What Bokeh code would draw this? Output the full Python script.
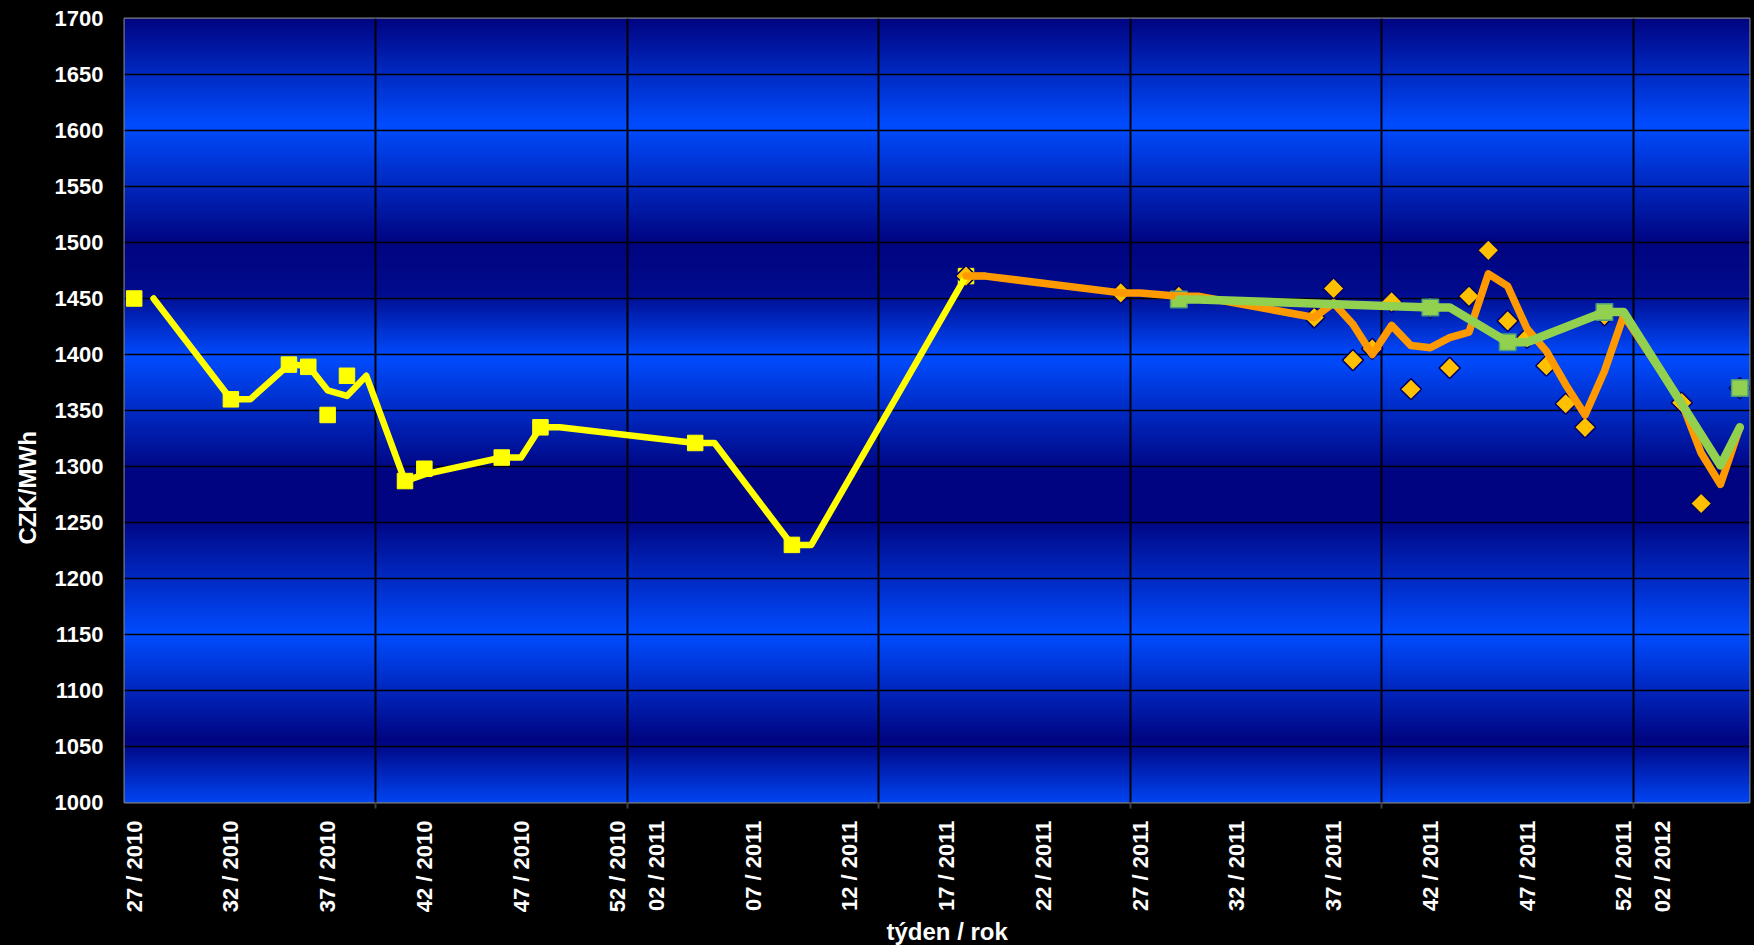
import math
import numpy as np
from bokeh.plotting import figure
from bokeh.models import FixedTicker, Title, Range1d
from bokeh.embed import file_html
from bokeh.resources import INLINE

# ---------------- data ----------------
# categories: weeks 27/2010 .. 06/2012
weeks = ([f"{w:02d} / 2010" for w in range(27, 53)] +
         [f"{w:02d} / 2011" for w in range(1, 53)] +
         [f"{w:02d} / 2012" for w in range(1, 7)])

tick_labels = ["27 / 2010", "32 / 2010", "37 / 2010", "42 / 2010", "47 / 2010",
               "52 / 2010", "02 / 2011", "07 / 2011", "12 / 2011", "17 / 2011",
               "22 / 2011", "27 / 2011", "32 / 2011", "37 / 2011", "42 / 2011",
               "47 / 2011", "52 / 2011", "02 / 2012"]

y_ticks = [1000, 1050, 1100, 1150, 1200, 1250, 1300, 1350, 1400, 1450,
           1500, 1550, 1600, 1650, 1700]

yellow_pts_weeks = ["27 / 2010", "32 / 2010", "35 / 2010", "36 / 2010", "37 / 2010",
                    "38 / 2010", "41 / 2010", "42 / 2010", "46 / 2010", "48 / 2010",
                    "04 / 2011", "09 / 2011", "18 / 2011"]
yellow_pts_values = [1450, 1360, 1391, 1389, 1346, 1381, 1287, 1298, 1308, 1335,
                     1321, 1230, 1470]

yellow_line_weeks = ["28 / 2010", "32 / 2010", "33 / 2010", "35 / 2010", "36 / 2010",
                     "37 / 2010", "38 / 2010", "39 / 2010", "41 / 2010", "42 / 2010",
                     "46 / 2010", "47 / 2010", "48 / 2010", "49 / 2010", "04 / 2011",
                     "05 / 2011", "09 / 2011", "10 / 2011", "18 / 2011", "19 / 2011"]
yellow_line_values = [1450, 1360, 1360, 1391, 1390, 1368, 1363, 1381, 1287, 1293,
                      1308, 1308, 1335, 1335, 1321, 1321, 1230, 1230, 1470, 1470]

orange_pts_weeks = ["18 / 2011", "26 / 2011", "29 / 2011", "36 / 2011", "37 / 2011",
                    "38 / 2011", "39 / 2011", "40 / 2011", "41 / 2011", "42 / 2011",
                    "43 / 2011", "44 / 2011", "45 / 2011", "46 / 2011", "47 / 2011",
                    "48 / 2011", "49 / 2011", "50 / 2011", "51 / 2011", "03 / 2012",
                    "04 / 2012", "06 / 2012"]
orange_pts_values = [1470, 1455, 1452, 1433, 1459, 1395, 1405, 1447, 1369, 1442,
                     1388, 1452, 1493, 1430, 1415, 1390, 1356, 1335, 1435, 1357,
                     1267, 1370]

orange_line_weeks = ["18 / 2011", "19 / 2011", "26 / 2011", "27 / 2011", "29 / 2011",
                     "30 / 2011", "36 / 2011", "37 / 2011", "38 / 2011", "39 / 2011",
                     "40 / 2011", "41 / 2011", "42 / 2011", "43 / 2011", "44 / 2011",
                     "45 / 2011", "46 / 2011", "47 / 2011", "48 / 2011", "49 / 2011",
                     "50 / 2011", "51 / 2011", "52 / 2011", "03 / 2012", "04 / 2012",
                     "05 / 2012", "06 / 2012"]
orange_line_values = [1470, 1470, 1455, 1455, 1452, 1452, 1433, 1446, 1427, 1400,
                      1426, 1408, 1406, 1415, 1420, 1472, 1461, 1423, 1403, 1373,
                      1346, 1385, 1435, 1357, 1312, 1284, 1335]

green_pts_weeks = ["29 / 2011", "42 / 2011", "46 / 2011", "51 / 2011", "06 / 2012"]
green_pts_values = [1449, 1442, 1411, 1438, 1370]

green_line_weeks = ["29 / 2011", "30 / 2011", "42 / 2011", "43 / 2011", "46 / 2011",
                    "47 / 2011", "51 / 2011", "52 / 2011", "05 / 2012", "06 / 2012"]
green_line_values = [1449, 1449, 1442, 1442, 1411, 1411, 1438, 1438, 1301, 1335]

# ---------------- helpers ----------------
idx = {w: i for i, w in enumerate(weeks)}
n = len(weeks)
x_lo, x_hi = -0.5, n - 0.5
y_lo, y_hi = y_ticks[0], y_ticks[-1]

def xs(ws):
    return [idx[w] for w in ws]

FONT = "Liberation Sans"

p = figure(width=1754, height=945,
           x_range=Range1d(x_lo, x_hi), y_range=Range1d(y_lo, y_hi),
           output_backend="svg", toolbar_location=None,
           min_border_left=124, min_border_right=5,
           min_border_top=18, min_border_bottom=143)
p.background_fill_color = "black"
p.border_fill_color = "black"
p.outline_line_color = "#808080"
p.outline_line_width = 2

# background gradient (style only): banded blue shading
stop_v = [1000, 1055, 1150, 1255, 1295, 1398, 1455, 1500, 1605, 1700]
stop_t = [0.9, 0.0, 1.0, 0.0, 0.0, 1.0, 0.1, 0.0, 1.0, 0.0]
dark = np.array([0, 4, 128])
bright = np.array([0, 76, 255])
edges = np.linspace(y_lo, y_hi, 351)
bots = edges[:-1]
tops = np.minimum(edges[1:] + (edges[1] - edges[0]) * 0.6, y_hi)
mids = (edges[:-1] + edges[1:]) / 2
ts = np.interp(mids, stop_v, stop_t)
cols = []
for t in ts:
    c = dark + (bright - dark) * t
    cols.append("#%02x%02x%02x" % tuple(int(round(v)) for v in c))
p.quad(left=x_lo, right=x_hi, bottom=bots, top=tops,
       fill_color=cols, line_color=None, level="image")

# grids
boundaries = [k * 13 - 0.5 for k in range(1, n // 13 + 1)]
p.xgrid.ticker = FixedTicker(ticks=boundaries)
p.xgrid.grid_line_color = "black"
p.xgrid.grid_line_width = 2
p.ygrid.ticker = FixedTicker(ticks=y_ticks)
p.ygrid.grid_line_color = "black"
p.ygrid.grid_line_width = 1.5

# axes
p.xaxis.ticker = FixedTicker(ticks=xs(tick_labels), minor_ticks=boundaries)
p.xaxis.major_label_overrides = {idx[t]: t for t in tick_labels}
p.xaxis.major_label_orientation = math.pi / 2
p.xaxis.major_tick_line_color = None
p.xaxis.major_tick_out = 6
p.xaxis.minor_tick_line_color = "#404040"
p.xaxis.minor_tick_line_width = 2
p.xaxis.minor_tick_in = 0
p.xaxis.minor_tick_out = 6
p.xaxis.axis_line_color = None
p.xaxis.major_label_standoff = 12
p.xaxis.major_label_text_font = FONT
p.xaxis.major_label_text_font_size = "22px"
p.xaxis.major_label_text_font_style = "bold"
p.xaxis.major_label_text_color = "white"

p.yaxis.ticker = FixedTicker(ticks=y_ticks)
p.yaxis.major_tick_line_color = None
p.yaxis.major_tick_out = 0
p.yaxis.major_tick_in = 0
p.yaxis.minor_tick_line_color = None
p.yaxis.minor_tick_out = 0
p.yaxis.minor_tick_in = 0
p.yaxis.axis_line_color = None
p.yaxis.major_label_standoff = 21
p.yaxis.major_label_text_font = FONT
p.yaxis.major_label_text_font_size = "22px"
p.yaxis.major_label_text_font_style = "bold"
p.yaxis.major_label_text_color = "white"

p.add_layout(Title(text="CZK/MWh", align="left", offset=258, standoff=21,
                   text_font=FONT, text_font_size="24px", text_font_style="bold",
                   text_color="white"), "left")
p.add_layout(Title(text="týden / rok", align="left", offset=762, standoff=0,
                   text_font=FONT, text_font_size="24px", text_font_style="bold",
                   text_color="white"), "below")

# markers
p.scatter(x=xs(yellow_pts_weeks), y=yellow_pts_values, marker="square", size=15.5,
          fill_color="#FFFF00", line_color="#FFFF00", line_width=1)
p.scatter(x=xs(orange_pts_weeks), y=orange_pts_values, marker="square",
          angle=math.pi / 4, size=15, fill_color="#FFC000",
          line_color="#000066", line_width=1.5)
p.scatter(x=xs(green_pts_weeks), y=green_pts_values, marker="square", size=16.5,
          fill_color="#92D050", line_color="#4A9A80", line_width=1.5)

# lines
p.line(x=xs(yellow_line_weeks), y=yellow_line_values, line_color="#FFFF00",
       line_width=6.5, line_join="round", line_cap="round")
p.line(x=xs(orange_line_weeks), y=orange_line_values, line_color="#FF9900",
       line_width=7.5, line_join="round", line_cap="round")
p.line(x=xs(green_line_weeks), y=green_line_values, line_color="#92D050",
       line_width=8.5, line_join="round", line_cap="round")

html = file_html(p, INLINE, title="CZK/MWh")
html = html.replace("<head>", "<head><style>html, body { background-color: #000000; }</style>", 1)
with open("out.html", "w", encoding="utf-8") as f:
    f.write(html)
